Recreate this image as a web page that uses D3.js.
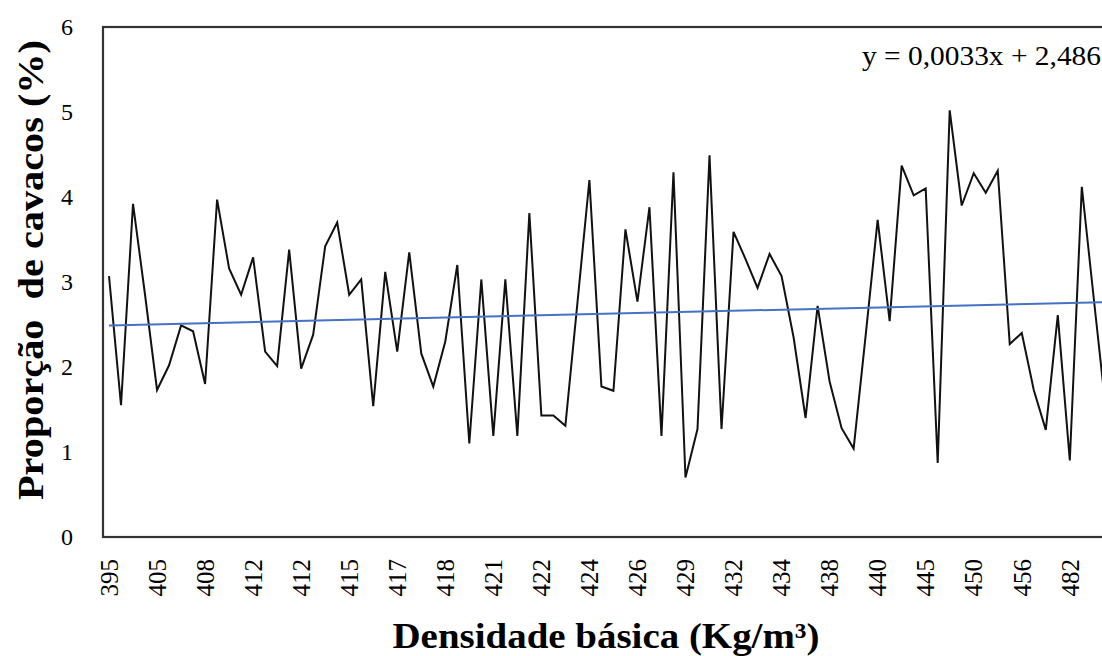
<!DOCTYPE html>
<html>
<head>
<meta charset="utf-8">
<script src="https://cdn.jsdelivr.net/npm/d3@7"></script>
<style>
  body { margin: 0; background: #fff; }
  svg { display: block; font-family: "Liberation Serif", "Times New Roman", serif; }
  .axis path, .axis line { display: none; }
</style>
</head>
<body>
<div class="chart"></div>
<script>
// tick labels shown every 4th sample (basic density, Kg/m3)
const densityLabels = ["395", "405", "408", "412", "412", "415", "417", "418", "421", "422",
  "424", "426", "429", "432", "434", "438", "440", "445", "450", "456", "482"];
const labelStep = 4;

// chip proportion (%) per sample
const chipProportion = [
  3.07, 1.55, 3.92, 2.85, 1.73, 2.02, 2.49, 2.42, 1.80, 3.97,
  3.16, 2.85, 3.29, 2.18, 2.01, 3.38, 1.98, 2.38, 3.42, 3.70,
  2.85, 3.03, 1.54, 3.12, 2.18, 3.35, 2.16, 1.77, 2.30, 3.20,
  1.10, 3.03, 1.19, 3.03, 1.19, 3.81, 1.43, 1.43, 1.31, 2.75,
  4.20, 1.77, 1.72, 3.62, 2.77, 3.88, 1.19, 4.29, 0.70, 1.27,
  4.49, 1.27, 3.59, 3.27, 2.93, 3.33, 3.07, 2.35, 1.40, 2.72,
  1.83, 1.28, 1.04, 2.37, 3.73, 2.54, 4.37, 4.02, 4.10, 0.87,
  5.02, 3.90, 4.28, 4.05, 4.31, 2.27, 2.40, 1.73, 1.26, 2.61,
  0.90, 4.12, 2.80, 1.50
];

// linear trend y = 0,0033x + 2,486 (x = sample number)
const trendSlope = 0.0033;
const trendIntercept = 2.486;
const yTicks = [0, 1, 2, 3, 4, 5, 6];

/* margins and container dimensions */
const margin = {top: 27, right: 0, bottom: 119, left: 103};
const totalW = 1102, totalH = 656;
const height = totalH - margin.top - margin.bottom;
const step = 12.01;
const width = chipProportion.length * step;  // runs past the right edge, as in the picture

const svg = d3.select(".chart").append("svg")
  .attr("width", totalW)
  .attr("height", totalH);

const g = svg.append("g")
  .attr("transform", `translate(${margin.left},${margin.top})`);

/* scales */
const xScale = d3.scaleBand()
  .domain(d3.range(chipProportion.length))
  .range([0, width]);

const yScale = d3.scaleLinear()
  .domain([0, 6])
  .range([height, 0]);

const xMid = i => xScale(i) + xScale.bandwidth() / 2;

/* data line */
const line = d3.line()
  .x((d, i) => xMid(i))
  .y(d => yScale(d));

g.append("path")
  .datum(chipProportion)
  .attr("d", line)
  .attr("fill", "none")
  .attr("stroke", "#111")
  .attr("stroke-width", 2);

/* trend line */
const n = chipProportion.length;
g.append("path")
  .datum([0, n - 1])
  .attr("d", d3.line()
    .x(i => xMid(i))
    .y(i => yScale(trendSlope * (i + 1) + trendIntercept)))
  .attr("fill", "none")
  .attr("stroke", "#4472c4")
  .attr("stroke-width", 2);

/* frame */
g.append("rect")
  .attr("x", 0)
  .attr("y", 0)
  .attr("width", width)
  .attr("height", height)
  .attr("fill", "none")
  .attr("stroke", "#333")
  .attr("stroke-width", 2.2);

/* y axis */
const yAxis = d3.axisLeft(yScale)
  .tickValues(yTicks)
  .tickSize(0)
  .tickPadding(30)
  .tickFormat(d3.format("d"));

g.append("g")
  .attr("class", "axis yAxis")
  .call(yAxis)
  .selectAll("text")
    .style("font-family", "Liberation Serif")
    .style("font-size", "24px")
    .style("fill", "#000");

/* x axis, one label every 4 samples, rotated */
const xAxis = d3.axisBottom(xScale)
  .tickValues(d3.range(0, n, labelStep).filter(i => i / labelStep < densityLabels.length))
  .tickSize(0)
  .tickFormat(i => densityLabels[i / labelStep]);

g.append("g")
  .attr("class", "axis xAxis")
  .attr("transform", `translate(0,${height})`)
  .call(xAxis)
  .selectAll("text")
    .style("font-family", "Liberation Serif")
    .style("font-size", "25px")
    .style("fill", "#000")
    .attr("transform", "rotate(-90)")
    .attr("text-anchor", "end")
    .attr("x", -22)
    .attr("y", 0)
    .attr("dy", "0.35em");

/* axis titles */
svg.append("text")
  .attr("x", 606)
  .attr("y", 648)
  .attr("text-anchor", "middle")
  .attr("font-size", 35)
  .attr("font-weight", "bold")
  .attr("textLength", 427)
  .attr("lengthAdjust", "spacingAndGlyphs")
  .text("Densidade básica (Kg/m³)");

svg.append("text")
  .attr("transform", "translate(43,270) rotate(-90)")
  .attr("text-anchor", "middle")
  .attr("font-size", 35)
  .attr("font-weight", "bold")
  .attr("textLength", 460)
  .attr("lengthAdjust", "spacingAndGlyphs")
  .attr("xml:space", "preserve")
  .style("white-space", "pre")
  .text("Proporção  de cavacos (%)");

/* trend equation */
svg.append("text")
  .attr("x", 1101)
  .attr("y", 65)
  .attr("text-anchor", "end")
  .attr("font-size", 27)
  .attr("textLength", 239)
  .attr("lengthAdjust", "spacingAndGlyphs")
  .text("y = 0,0033x + 2,486");
</script>
</body>
</html>
